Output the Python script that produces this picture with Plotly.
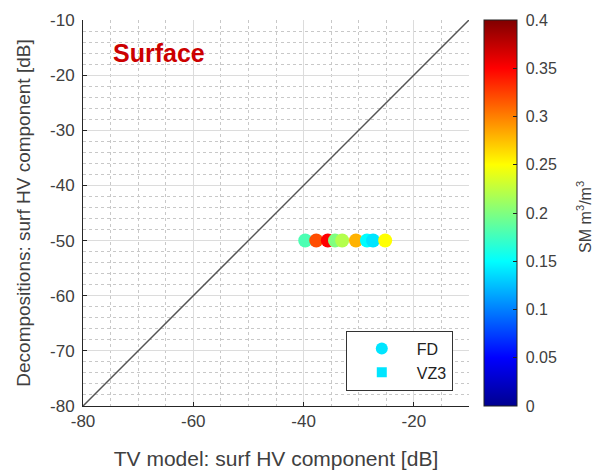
import plotly.graph_objects as go

# Data
fd_x = [-39.7, -37.7, -35.6, -34.3, -33.0, -30.5, -28.5, -27.4, -25.2]
fd_y = [-50, -50, -50, -50, -50, -50, -50, -50, -50]
fd_sm = [0.18, 0.32, 0.35, 0.20, 0.22, 0.28, 0.15, 0.14, 0.25]
vz3_x = [-39.7, -37.7, -35.6, -34.3, -33.0, -30.5, -28.5, -27.4, -25.2]
vz3_y = [-50, -50, -50, -50, -50, -50, -50, -50, -50]
vz3_sm = [0.18, 0.32, 0.35, 0.20, 0.22, 0.28, 0.15, 0.14, 0.25]
line_xy = [-80, -10]
x_ticks = [-80, -60, -40, -20]
y_ticks = [-80, -70, -60, -50, -40, -30, -20, -10]
cbar_ticks = [0, 0.05, 0.1, 0.15, 0.2, 0.25, 0.3, 0.35, 0.4]

jet = [[0, '#00008F'], [0.125, '#0000FF'], [0.375, '#00FFFF'],
       [0.625, '#FFFF00'], [0.875, '#FF0000'], [1, '#800000']]

FONT = "Liberation Sans, Arial, sans-serif"
GRAY = "#404040"

fig = go.Figure()

fig.add_trace(go.Scatter(x=line_xy, y=line_xy, mode="lines",
                         line=dict(color="#555555", width=1.5),
                         showlegend=False, hoverinfo="skip"))

fig.add_trace(go.Scatter(x=vz3_x, y=vz3_y, mode="markers", showlegend=False,
                         marker=dict(symbol="square", size=9, color=vz3_sm,
                                     colorscale=jet, cmin=0, cmax=0.4)))

fig.add_trace(go.Scatter(x=fd_x, y=fd_y, mode="markers", showlegend=False,
                         marker=dict(symbol="circle", size=14, color=fd_sm,
                                     colorscale=jet, cmin=0, cmax=0.4,
                                     showscale=True,
                                     colorbar=dict(
                                         x=1.039, xanchor="left", y=0.5, yanchor="middle",
                                         len=386, lenmode="pixels", thickness=33,
                                         outlinewidth=1, outlinecolor="#222",
                                         xpad=0, ypad=0,
                                         tickvals=cbar_ticks,
                                         ticktext=[f" {v:g}" for v in cbar_ticks],
                                         ticks="inside", ticklen=4, tickcolor="#222",
                                         tickfont=dict(family=FONT, size=16, color=GRAY),
                                     ))))

# legend entries
fig.add_trace(go.Scatter(x=[None], y=[None], mode="markers", name="FD",
                         marker=dict(symbol="circle", size=12, color="#00E5FF")))
fig.add_trace(go.Scatter(x=[None], y=[None], mode="markers", name="VZ3",
                         marker=dict(symbol="square", size=10, color="#00E5FF")))

fig.add_annotation(x=-75, y=-16, xref="x", yref="y", text="<b>Surface</b>",
                   showarrow=False, xanchor="left", yanchor="middle",
                   font=dict(family=FONT, size=25, color="#CC0000"))

# colorbar title
fig.add_annotation(x=1.298, y=0.49, xref="paper", yref="paper",
                   text="SM m<sup>3</sup>/m<sup>3</sup>", textangle=-90,
                   showarrow=False, xanchor="center", yanchor="middle",
                   font=dict(family=FONT, size=16, color=GRAY))

fig.update_xaxes(range=[-80, -10], tickvals=x_ticks, automargin=False,
                 ticktext=[str(v) for v in x_ticks], showgrid=True,
                 gridcolor="#dcdcdc", gridwidth=1,
                 minor=dict(dtick=5, tick0=-80, showgrid=True, griddash="dot",
                            gridcolor="#c8c8c8", gridwidth=1),
                 showline=True, linecolor="#262626", linewidth=1, mirror=False,
                 ticks="inside", ticklen=4, tickcolor="#262626", zeroline=False,
                 tickfont=dict(family=FONT, size=17, color=GRAY),
                 title=dict(text="TV model: surf HV component [dB]", standoff=20,
                            font=dict(family=FONT, size=21, color=GRAY)))
fig.update_yaxes(range=[-80, -10], tickvals=y_ticks, automargin=False,
                 ticktext=[str(v) for v in y_ticks], showgrid=True,
                 gridcolor="#dcdcdc", gridwidth=1,
                 minor=dict(dtick=2, tick0=-80, showgrid=True, griddash="dot",
                            gridcolor="#c8c8c8", gridwidth=1),
                 showline=True, linecolor="#262626", linewidth=1, mirror=False,
                 ticks="inside", ticklen=4, tickcolor="#262626", zeroline=False,
                 ticklabelstandoff=4,
                 tickfont=dict(family=FONT, size=17, color=GRAY),
                 title=dict(text="Decompositions: surf HV component [dB]", standoff=14,
                            font=dict(family=FONT, size=19, color=GRAY)))

fig.update_layout(
    width=598, height=471,
    margin=dict(l=83, r=129, t=20, b=65, autoexpand=False),
    paper_bgcolor="white", plot_bgcolor="white",
    legend=dict(x=0.958, y=0.04, xanchor="right", yanchor="bottom",
                bgcolor="white", bordercolor="#333", borderwidth=1,
                font=dict(family=FONT, size=16, color="#222"),
                itemwidth=60, tracegroupgap=0),
)

fig.write_html("out.html")
